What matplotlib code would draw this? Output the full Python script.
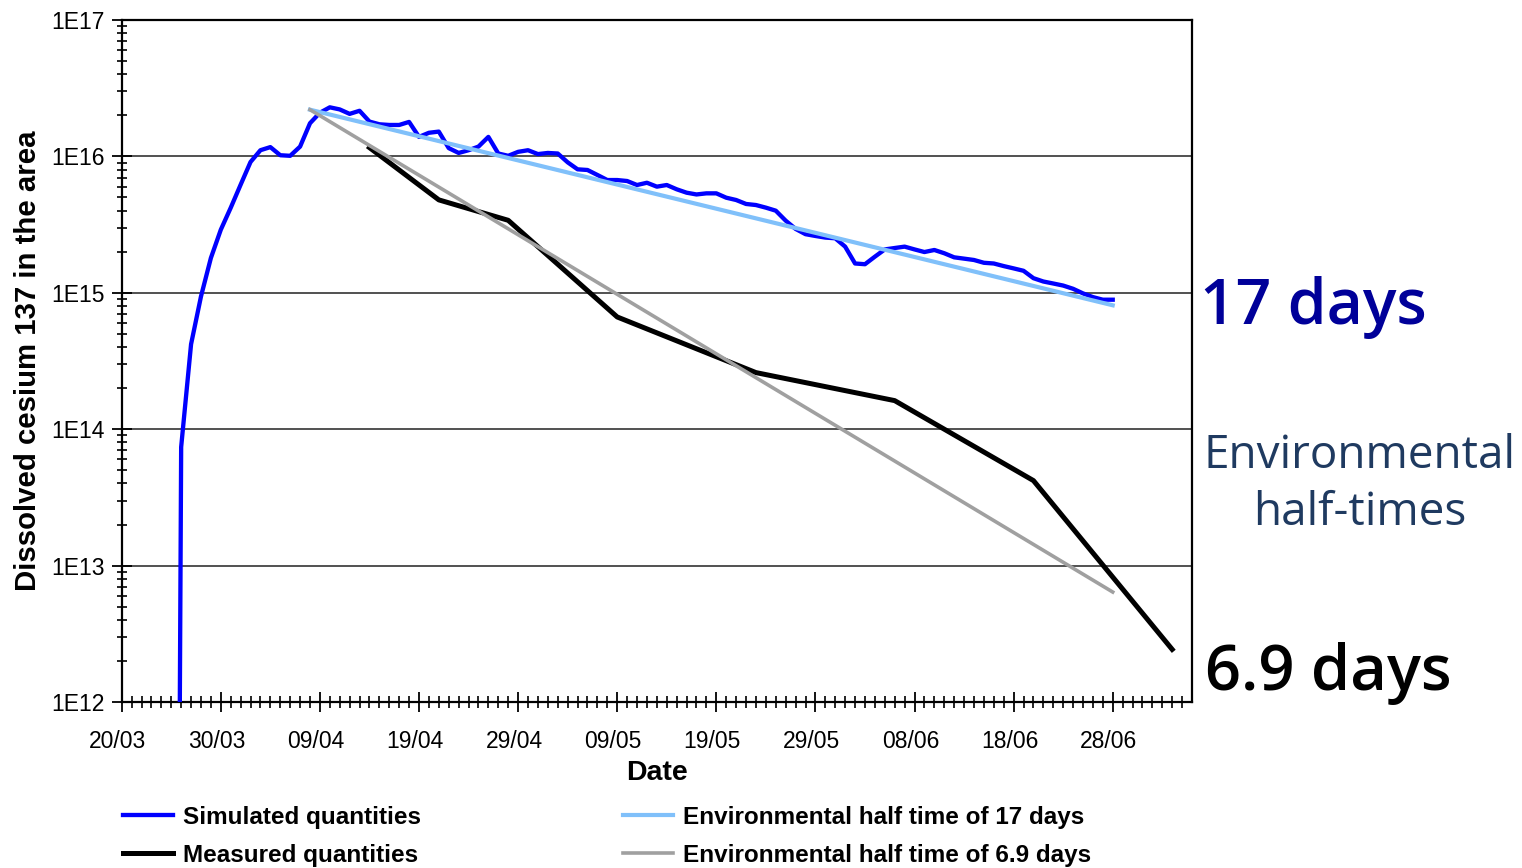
import numpy as np
import matplotlib
matplotlib.use("Agg")
import matplotlib.pyplot as plt
import matplotlib.transforms as mtransforms
from matplotlib.ticker import FixedLocator, LogLocator, NullFormatter, FixedFormatter

# Days counted from 20 March 2011
sim_days = np.arange(5, 101)
sim_values = [
    1.0, 7.4e13, 4.2e14, 9.4e14, 1.8e15, 2.9e15, 4.2e15, 6.2e15, 9.1e15, 1.11e16,
    1.17e16, 1.02e16, 1.01e16, 1.18e16, 1.75e16, 2.09e16, 2.29e16, 2.21e16, 2.05e16, 2.16e16,
    1.80e16, 1.72e16, 1.70e16, 1.70e16, 1.79e16, 1.39e16, 1.49e16, 1.52e16, 1.15e16, 1.06e16,
    1.11e16, 1.18e16, 1.39e16, 1.05e16, 1.01e16, 1.08e16, 1.11e16, 1.04e16, 1.06e16, 1.05e16,
    9.05e15, 8.04e15, 7.95e15, 7.31e15, 6.71e15, 6.71e15, 6.60e15, 6.17e15, 6.41e15, 6.00e15,
    6.17e15, 5.74e15, 5.42e15, 5.26e15, 5.36e15, 5.36e15, 4.98e15, 4.79e15, 4.48e15, 4.40e15,
    4.21e15, 4.00e15, 3.38e15, 2.94e15, 2.69e15, 2.61e15, 2.54e15, 2.51e15, 2.18e15, 1.64e15,
    1.62e15, 1.84e15, 2.08e15, 2.13e15, 2.18e15, 2.08e15, 1.99e15, 2.06e15, 1.95e15, 1.82e15,
    1.78e15, 1.74e15, 1.66e15, 1.64e15, 1.57e15, 1.51e15, 1.45e15, 1.28e15, 1.21e15, 1.17e15,
    1.13e15, 1.07e15, 9.9e14, 9.3e14, 8.9e14, 8.9e14,
]

meas_days = [25, 32, 39, 50, 64, 78, 92, 106]
meas_values = [1.16e16, 4.8e15, 3.4e15, 6.65e14, 2.6e14, 1.62e14, 4.2e13, 2.43e12]

fit_days = [19, 100]
fit17_values = [2.2e16, 8.1e14]
fit69_values = [2.2e16, 6.4e12]

tick_days = list(range(0, 101, 10))
tick_labels = ["20/03", "30/03", "09/04", "19/04", "29/04", "09/05",
               "19/05", "29/05", "08/06", "18/06", "28/06"]
y_ticks = [1e12, 1e13, 1e14, 1e15, 1e16, 1e17]
y_labels = ["1E12", "1E13", "1E14", "1E15", "1E16", "1E17"]

W, H = 1522, 868
fig = plt.figure(figsize=(W / 100, H / 100), dpi=100)
plt.rcParams["font.family"] = ["Liberation Sans", "DejaVu Sans"]

ax = fig.add_axes([121.7 / W, 1 - 702 / H, (1192 - 121.7) / W, (702 - 20) / H])

ax.plot(sim_days, sim_values, color="#0000FF", lw=3.1, solid_joinstyle="round",
        label="Simulated quantities", zorder=3)
ax.plot(meas_days, meas_values, color="#000000", lw=3.6, solid_joinstyle="round",
        label="Measured quantities", zorder=4)
ax.plot(fit_days, fit17_values, color="#80C0FA", lw=3.0,
        label="Environmental half time of 17 days", zorder=5)
ax.plot(fit_days, fit69_values, color="#A0A0A0", lw=2.6,
        label="Environmental half time of 6.9 days", zorder=6)

ax.set_yscale("log")
ax.set_ylim(1e12, 1e17)
ax.set_xlim(0, 108)

ax.yaxis.set_major_locator(FixedLocator(y_ticks))
ax.yaxis.set_major_formatter(FixedFormatter(y_labels))
ax.yaxis.set_minor_locator(LogLocator(base=10, subs=np.arange(2, 10)))
ax.yaxis.set_minor_formatter(NullFormatter())

ax.xaxis.set_major_locator(FixedLocator(tick_days))
ax.xaxis.set_major_formatter(FixedFormatter(tick_labels))
ax.xaxis.set_minor_locator(FixedLocator(np.arange(1, 108)))

ax.tick_params(axis="x", which="major", direction="inout", length=15, width=1.3,
               pad=13, labelsize=16.5)
ax.tick_params(axis="x", which="minor", direction="inout", length=8, width=1.2)
ax.tick_params(axis="y", which="major", direction="inout", length=14, width=1.3,
               pad=5, labelsize=16.5)
ax.tick_params(axis="y", which="minor", direction="inout", length=7, width=1.2)

# date labels sit slightly left of their ticks
shift = mtransforms.ScaledTranslation(-4 / 100, 0, fig.dpi_scale_trans)
for lbl in ax.get_xticklabels():
    lbl.set_transform(lbl.get_transform() + shift)

ax.grid(True, which="major", axis="y", color="#222222", lw=1.1, zorder=1)
for side in ["left", "bottom", "top", "right"]:
    ax.spines[side].set_linewidth(1.6)
    ax.spines[side].set_color("black")

ax.set_ylabel("Dissolved cesium 137 in the area", fontsize=21.2, fontweight="bold")
ax.yaxis.set_label_coords((28 - 121.7) / (1192 - 121.7), 0.5)
ax.yaxis.label.set_verticalalignment("center")
ax.set_xlabel("Date", fontsize=20.5, fontweight="bold")
ax.xaxis.set_label_coords(0.5, (702 - 773) / (702 - 20))
ax.xaxis.label.set_verticalalignment("center")

handles, labels = ax.get_legend_handles_labels()
fig.legend(handles, labels, ncol=2, frameon=False, loc="upper left",
           bbox_to_anchor=(123 / W, 1 - 806 / H),
           prop={"weight": "bold", "size": 17.5}, handlelength=2.05,
           handletextpad=0.42, columnspacing=8.3, labelspacing=0.6, borderpad=0,
           borderaxespad=0)

fig.text(1200 / W, 1 - 324 / H, "17 days", color="#000099", fontsize=45,
         family="Open Sans", fontweight="semibold", ha="left", va="baseline")
fig.text(1360 / W, 1 - 468 / H, "Environmental", color="#1F3A60", fontsize=33,
         family="Open Sans", ha="center", va="baseline")
fig.text(1360 / W, 1 - 525 / H, "half-times", color="#1F3A60", fontsize=33,
         family="Open Sans", ha="center", va="baseline")
fig.text(1205 / W, 1 - 690 / H, "6.9 days", color="#000000", fontsize=45.5,
         family="Open Sans", fontweight="semibold", ha="left", va="baseline")

fig.savefig("out.png", dpi=100)
